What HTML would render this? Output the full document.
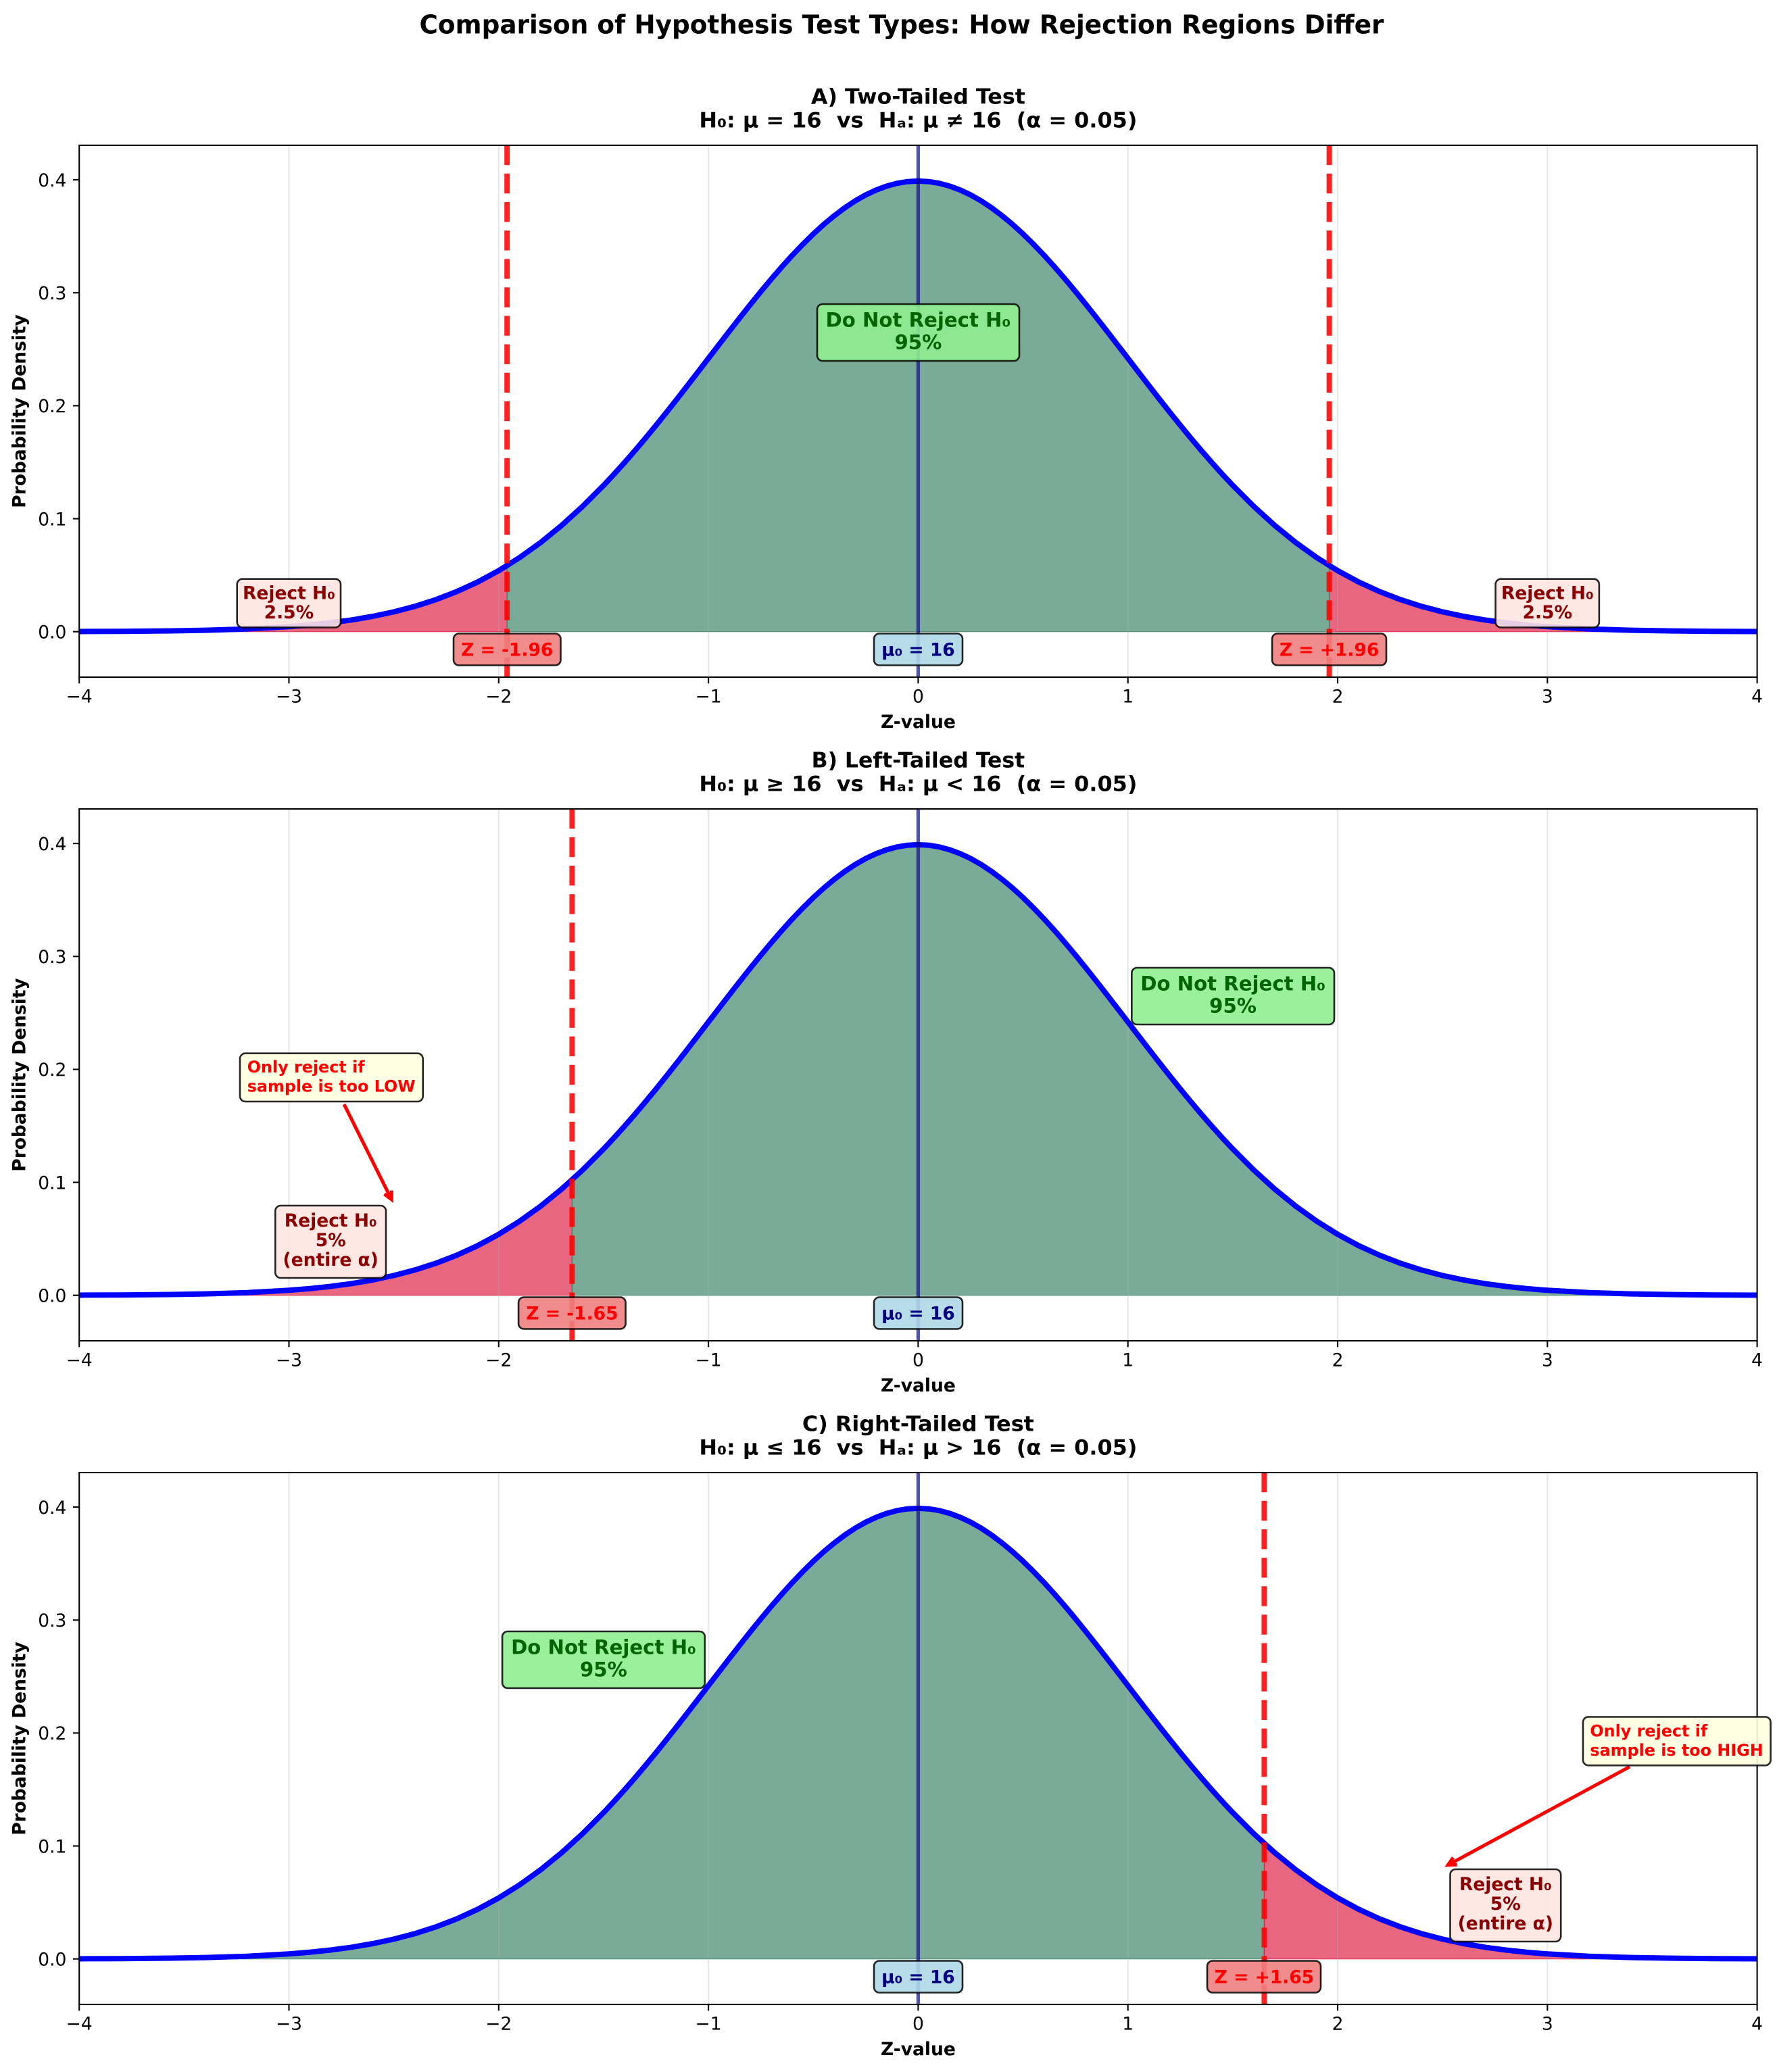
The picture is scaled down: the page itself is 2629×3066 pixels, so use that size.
<!DOCTYPE html>
<html>
<head>
<meta charset="utf-8">
<style>
html,body{margin:0;padding:0;background:#fff;}
svg{display:block;}
text{font-family:"DejaVu Sans","Liberation Sans",sans-serif;}
.b{font-weight:bold;}
</style>
</head>
<body>
<svg width="2629" height="3066" viewBox="0 0 2629 3066" xmlns="http://www.w3.org/2000/svg">
<defs>
<clipPath id="ax" clipPathUnits="userSpaceOnUse"><rect x="117.2" y="215" width="2482.4" height="787"/></clipPath>
<path id="curve" fill="none" stroke="#0000ff" stroke-width="8" stroke-linejoin="round" d="M-1241.2,-0.22 L-1179.14,-0.49 L-1117.08,-1.02 L-1055.02,-2.06 L-992.96,-3.98 L-930.9,-7.41 L-899.87,-9.95 L-868.84,-13.23 L-837.81,-17.42 L-806.78,-22.7 L-775.75,-29.3 L-744.72,-37.43 L-713.69,-47.35 L-682.66,-59.3 L-651.63,-73.52 L-620.6,-90.25 L-589.57,-109.68 L-558.54,-131.96 L-527.51,-157.2 L-496.48,-185.4 L-465.45,-216.49 L-449.935,-233.06 L-434.42,-250.27 L-418.905,-268.08 L-403.39,-286.44 L-387.875,-305.3 L-372.36,-324.58 L-356.845,-344.22 L-341.33,-364.14 L-325.815,-384.25 L-310.3,-404.46 L-294.785,-424.66 L-279.27,-444.76 L-263.755,-464.65 L-248.24,-484.22 L-232.725,-503.35 L-217.21,-521.93 L-201.695,-539.85 L-186.18,-556.99 L-170.665,-573.23 L-155.15,-588.48 L-139.635,-602.62 L-124.12,-615.56 L-108.605,-627.21 L-93.09,-637.49 L-77.575,-646.32 L-62.06,-653.63 L-46.545,-659.37 L-31.03,-663.51 L-15.515,-666.0 L0,-666.83 L15.515,-666.0 L31.03,-663.51 L46.545,-659.37 L62.06,-653.63 L77.575,-646.32 L93.09,-637.49 L108.605,-627.21 L124.12,-615.56 L139.635,-602.62 L155.15,-588.48 L170.665,-573.23 L186.18,-556.99 L201.695,-539.85 L217.21,-521.93 L232.725,-503.35 L248.24,-484.22 L263.755,-464.65 L279.27,-444.76 L294.785,-424.66 L310.3,-404.46 L325.815,-384.25 L341.33,-364.14 L356.845,-344.22 L372.36,-324.58 L387.875,-305.3 L403.39,-286.44 L418.905,-268.08 L434.42,-250.27 L449.935,-233.06 L465.45,-216.49 L496.48,-185.4 L527.51,-157.2 L558.54,-131.96 L589.57,-109.68 L620.6,-90.25 L651.63,-73.52 L682.66,-59.3 L713.69,-47.35 L744.72,-37.43 L775.75,-29.3 L806.78,-22.7 L837.81,-17.42 L868.84,-13.23 L899.87,-9.95 L930.9,-7.41 L992.96,-3.98 L1055.02,-2.06 L1117.08,-1.02 L1179.14,-0.49 L1241.2,-0.22"/>
<g id="grid" stroke="rgba(176,176,176,0.3)" stroke-width="2.1">
<line x1="427.5" y1="215" x2="427.5" y2="1002"/>
<line x1="737.8" y1="215" x2="737.8" y2="1002"/>
<line x1="1048.1" y1="215" x2="1048.1" y2="1002"/>
<line x1="1358.4" y1="215" x2="1358.4" y2="1002"/>
<line x1="1668.7" y1="215" x2="1668.7" y2="1002"/>
<line x1="1979" y1="215" x2="1979" y2="1002"/>
<line x1="2289.3" y1="215" x2="2289.3" y2="1002"/>
</g>
<g id="frame">
<rect x="117.2" y="215" width="2482.4" height="787" fill="none" stroke="#000" stroke-width="2.1"/>
<g stroke="#000" stroke-width="2.1">
<line x1="117.2" y1="1002" x2="117.2" y2="1011.3"/>
<line x1="427.5" y1="1002" x2="427.5" y2="1011.3"/>
<line x1="737.8" y1="1002" x2="737.8" y2="1011.3"/>
<line x1="1048.1" y1="1002" x2="1048.1" y2="1011.3"/>
<line x1="1358.4" y1="1002" x2="1358.4" y2="1011.3"/>
<line x1="1668.7" y1="1002" x2="1668.7" y2="1011.3"/>
<line x1="1979" y1="1002" x2="1979" y2="1011.3"/>
<line x1="2289.3" y1="1002" x2="2289.3" y2="1011.3"/>
<line x1="2599.6" y1="1002" x2="2599.6" y2="1011.3"/>
<line x1="107.9" y1="934.7" x2="117.2" y2="934.7"/>
<line x1="107.9" y1="767.55" x2="117.2" y2="767.55"/>
<line x1="107.9" y1="600.4" x2="117.2" y2="600.4"/>
<line x1="107.9" y1="433.25" x2="117.2" y2="433.25"/>
<line x1="107.9" y1="266.1" x2="117.2" y2="266.1"/>
</g>
<g font-size="26.5" fill="#000" text-anchor="middle">
<text x="117.2" y="1039.3">−4</text>
<text x="427.5" y="1039.3">−3</text>
<text x="737.8" y="1039.3">−2</text>
<text x="1048.1" y="1039.3">−1</text>
<text x="1358.4" y="1039.3">0</text>
<text x="1668.7" y="1039.3">1</text>
<text x="1979" y="1039.3">2</text>
<text x="2289.3" y="1039.3">3</text>
<text x="2599.6" y="1039.3">4</text>
</g>
<g font-size="26.5" fill="#000" text-anchor="end">
<text x="98.4" y="944.4">0.0</text>
<text x="98.4" y="777.25">0.1</text>
<text x="98.4" y="610.1">0.2</text>
<text x="98.4" y="442.95">0.3</text>
<text x="98.4" y="275.8">0.4</text>
</g>
<text class="b" x="1358.4" y="1077" font-size="26.5" text-anchor="middle">Z-value</text>
<text class="b" font-size="26.5" text-anchor="middle" transform="translate(37.5,608.5) rotate(-90)">Probability Density</text>
</g>
</defs>

<!-- Main title -->
<text class="b" x="1334" y="49.3" font-size="38.5" text-anchor="middle" textLength="1427" lengthAdjust="spacingAndGlyphs">Comparison of Hypothesis Test Types: How Rejection Regions Differ</text>

<!-- ================= PANEL A ================= -->
<g>
<text class="b" x="1358.4" y="153.3" font-size="31.5" text-anchor="middle" textLength="317" lengthAdjust="spacingAndGlyphs">A) Two-Tailed Test</text>
<text class="b" x="1358.4" y="188.3" font-size="31.5" text-anchor="middle" textLength="648" lengthAdjust="spacingAndGlyphs">H₀: μ = 16&#160; vs&#160; Hₐ: μ ≠ 16&#160; (α = 0.05)</text>
<g clip-path="url(#ax)">
<g transform="translate(1358.4,934.7)">
<path fill="rgba(220,20,60,0.65)" stroke="rgba(220,20,60,0.65)" stroke-width="1.3" d="M-1241.2,0 L-1241.2,-0.22 L-1179.14,-0.49 L-1117.08,-1.02 L-1055.02,-2.06 L-992.96,-3.98 L-930.9,-7.41 L-899.87,-9.95 L-868.84,-13.23 L-837.81,-17.42 L-806.78,-22.7 L-775.75,-29.3 L-744.72,-37.43 L-713.69,-47.35 L-682.66,-59.3 L-651.63,-73.52 L-620.6,-90.25 L-608.19,-97.69 L-608.19,0 Z"/>
<path fill="rgba(220,20,60,0.65)" stroke="rgba(220,20,60,0.65)" stroke-width="1.3" d="M1241.2,0 L1241.2,-0.22 L1179.14,-0.49 L1117.08,-1.02 L1055.02,-2.06 L992.96,-3.98 L930.9,-7.41 L899.87,-9.95 L868.84,-13.23 L837.81,-17.42 L806.78,-22.7 L775.75,-29.3 L744.72,-37.43 L713.69,-47.35 L682.66,-59.3 L651.63,-73.52 L620.6,-90.25 L608.19,-97.69 L608.19,0 Z"/>
<path fill="rgba(50,126,97,0.65)" stroke="rgba(50,126,97,0.65)" stroke-width="1.3" d="M-608.19,0 L-608.19,-97.69 L-589.57,-109.68 L-558.54,-131.96 L-527.51,-157.2 L-496.48,-185.4 L-465.45,-216.49 L-434.42,-250.27 L-403.39,-286.44 L-372.36,-324.58 L-341.33,-364.14 L-310.3,-404.46 L-279.27,-444.76 L-248.24,-484.22 L-217.21,-521.93 L-186.18,-556.99 L-155.15,-588.48 L-124.12,-615.56 L-93.09,-637.49 L-62.06,-653.63 L-31.03,-663.51 L0,-666.83 L31.03,-663.51 L62.06,-653.63 L93.09,-637.49 L124.12,-615.56 L155.15,-588.48 L186.18,-556.99 L217.21,-521.93 L248.24,-484.22 L279.27,-444.76 L310.3,-404.46 L341.33,-364.14 L372.36,-324.58 L403.39,-286.44 L434.42,-250.27 L465.45,-216.49 L496.48,-185.4 L527.51,-157.2 L558.54,-131.96 L589.57,-109.68 L608.19,-97.69 L608.19,0 Z"/>
</g>
<use href="#grid"/>
<g transform="translate(1358.4,934.7)"><use href="#curve"/></g>
<line x1="750.2" y1="1002" x2="750.2" y2="215" stroke="rgba(255,0,0,0.87)" stroke-width="7.95" stroke-dasharray="29.4 12.7"/>
<line x1="1966.6" y1="1002" x2="1966.6" y2="215" stroke="rgba(255,0,0,0.87)" stroke-width="7.95" stroke-dasharray="29.4 12.7"/>
<line x1="1358.4" y1="1002" x2="1358.4" y2="215" stroke="rgba(0,0,128,0.65)" stroke-width="5.3"/>
</g>
<use href="#frame"/>
</g>

<!-- ================= PANEL B ================= -->
<g transform="translate(0,982)">
<text class="b" x="1358.4" y="153.3" font-size="31.5" text-anchor="middle">B) Left-Tailed Test</text>
<text class="b" x="1358.4" y="188.3" font-size="31.5" text-anchor="middle" textLength="648" lengthAdjust="spacingAndGlyphs">H₀: μ ≥ 16&#160; vs&#160; Hₐ: μ &lt; 16&#160; (α = 0.05)</text>
<g clip-path="url(#ax)">
<g transform="translate(1358.4,934.7)">
<path fill="rgba(220,20,60,0.65)" stroke="rgba(220,20,60,0.65)" stroke-width="1.3" d="M-1241.2,0 L-1241.2,-0.22 L-1179.14,-0.49 L-1117.08,-1.02 L-1055.02,-2.06 L-992.96,-3.98 L-930.9,-7.41 L-899.87,-9.95 L-868.84,-13.23 L-837.81,-17.42 L-806.78,-22.7 L-775.75,-29.3 L-744.72,-37.43 L-713.69,-47.35 L-682.66,-59.3 L-651.63,-73.52 L-620.6,-90.25 L-589.57,-109.68 L-558.54,-131.96 L-527.51,-157.2 L-512,-170.94 L-512,0 Z"/>
<path fill="rgba(50,126,97,0.65)" stroke="rgba(50,126,97,0.65)" stroke-width="1.3" d="M-512,0 L-512,-170.94 L-496.48,-185.4 L-465.45,-216.49 L-434.42,-250.27 L-403.39,-286.44 L-372.36,-324.58 L-341.33,-364.14 L-310.3,-404.46 L-279.27,-444.76 L-248.24,-484.22 L-217.21,-521.93 L-186.18,-556.99 L-155.15,-588.48 L-124.12,-615.56 L-93.09,-637.49 L-62.06,-653.63 L-31.03,-663.51 L0,-666.83 L31.03,-663.51 L62.06,-653.63 L93.09,-637.49 L124.12,-615.56 L155.15,-588.48 L186.18,-556.99 L217.21,-521.93 L248.24,-484.22 L279.27,-444.76 L310.3,-404.46 L341.33,-364.14 L372.36,-324.58 L403.39,-286.44 L434.42,-250.27 L465.45,-216.49 L496.48,-185.4 L527.51,-157.2 L558.54,-131.96 L589.57,-109.68 L620.6,-90.25 L651.63,-73.52 L682.66,-59.3 L713.69,-47.35 L744.72,-37.43 L775.75,-29.3 L806.78,-22.7 L837.81,-17.42 L868.84,-13.23 L899.87,-9.95 L930.9,-7.41 L992.96,-3.98 L1055.02,-2.06 L1117.08,-1.02 L1179.14,-0.49 L1241.2,-0.22 L1241.2,0 Z"/>
</g>
<use href="#grid"/>
<g transform="translate(1358.4,934.7)"><use href="#curve"/></g>
<line x1="846.4" y1="1002" x2="846.4" y2="215" stroke="rgba(255,0,0,0.87)" stroke-width="7.95" stroke-dasharray="29.4 12.7"/>
<line x1="1358.4" y1="1002" x2="1358.4" y2="215" stroke="rgba(0,0,128,0.65)" stroke-width="5.3"/>
</g>
<use href="#frame"/>
</g>

<!-- ================= PANEL C ================= -->
<g transform="translate(0,1964)">
<text class="b" x="1358.4" y="153.3" font-size="31.5" text-anchor="middle" textLength="343" lengthAdjust="spacingAndGlyphs">C) Right-Tailed Test</text>
<text class="b" x="1358.4" y="188.3" font-size="31.5" text-anchor="middle" textLength="648" lengthAdjust="spacingAndGlyphs">H₀: μ ≤ 16&#160; vs&#160; Hₐ: μ &gt; 16&#160; (α = 0.05)</text>
<g clip-path="url(#ax)">
<g transform="translate(1358.4,934.7)">
<path fill="rgba(50,126,97,0.65)" stroke="rgba(50,126,97,0.65)" stroke-width="1.3" d="M-1241.2,0 L-1241.2,-0.22 L-1179.14,-0.49 L-1117.08,-1.02 L-1055.02,-2.06 L-992.96,-3.98 L-930.9,-7.41 L-899.87,-9.95 L-868.84,-13.23 L-837.81,-17.42 L-806.78,-22.7 L-775.75,-29.3 L-744.72,-37.43 L-713.69,-47.35 L-682.66,-59.3 L-651.63,-73.52 L-620.6,-90.25 L-589.57,-109.68 L-558.54,-131.96 L-527.51,-157.2 L-496.48,-185.4 L-465.45,-216.49 L-434.42,-250.27 L-403.39,-286.44 L-372.36,-324.58 L-341.33,-364.14 L-310.3,-404.46 L-279.27,-444.76 L-248.24,-484.22 L-217.21,-521.93 L-186.18,-556.99 L-155.15,-588.48 L-124.12,-615.56 L-93.09,-637.49 L-62.06,-653.63 L-31.03,-663.51 L0,-666.83 L31.03,-663.51 L62.06,-653.63 L93.09,-637.49 L124.12,-615.56 L155.15,-588.48 L186.18,-556.99 L217.21,-521.93 L248.24,-484.22 L279.27,-444.76 L310.3,-404.46 L341.33,-364.14 L372.36,-324.58 L403.39,-286.44 L434.42,-250.27 L465.45,-216.49 L496.48,-185.4 L512,-170.94 L512,0 Z"/>
<path fill="rgba(220,20,60,0.65)" stroke="rgba(220,20,60,0.65)" stroke-width="1.3" d="M512,0 L512,-170.94 L527.51,-157.2 L558.54,-131.96 L589.57,-109.68 L620.6,-90.25 L651.63,-73.52 L682.66,-59.3 L713.69,-47.35 L744.72,-37.43 L775.75,-29.3 L806.78,-22.7 L837.81,-17.42 L868.84,-13.23 L899.87,-9.95 L930.9,-7.41 L992.96,-3.98 L1055.02,-2.06 L1117.08,-1.02 L1179.14,-0.49 L1241.2,-0.22 L1241.2,0 Z"/>
</g>
<use href="#grid"/>
<g transform="translate(1358.4,934.7)"><use href="#curve"/></g>
<line x1="1870.4" y1="1002" x2="1870.4" y2="215" stroke="rgba(255,0,0,0.87)" stroke-width="7.95" stroke-dasharray="29.4 12.7"/>
<line x1="1358.4" y1="1002" x2="1358.4" y2="215" stroke="rgba(0,0,128,0.65)" stroke-width="5.3"/>
</g>
<use href="#frame"/>
</g>

<!-- ================= ANNOTATIONS (absolute) ================= -->
<g stroke="rgba(0,0,0,0.85)" stroke-width="2.6">
<!-- A -->
<rect x="1209" y="450" width="299" height="84" rx="8" fill="rgba(144,238,144,0.9)"/>
<rect x="350.7" y="856.7" width="153.3" height="71.7" rx="8" fill="rgba(255,228,225,0.9)"/>
<rect x="2212.6" y="856.7" width="153.3" height="71.7" rx="8" fill="rgba(255,228,225,0.9)"/>
<rect x="671" y="937.5" width="158.5" height="47" rx="8" fill="rgba(240,128,128,0.9)"/>
<rect x="1882" y="937.5" width="169" height="47" rx="8" fill="rgba(240,128,128,0.9)"/>
<rect x="1293" y="937.5" width="131" height="47" rx="8" fill="rgba(173,216,230,0.9)"/>
<!-- B -->
<rect x="1674.3" y="1432" width="299.7" height="84" rx="8" fill="rgba(144,238,144,0.9)"/>
<rect x="407.3" y="1784" width="163.7" height="107" rx="8" fill="rgba(255,228,225,0.9)"/>
<rect x="767.1" y="1919.5" width="158.5" height="47" rx="8" fill="rgba(240,128,128,0.9)"/>
<rect x="1293" y="1919.5" width="131" height="47" rx="8" fill="rgba(173,216,230,0.9)"/>
<!-- C -->
<rect x="743.1" y="2414" width="299.7" height="84" rx="8" fill="rgba(144,238,144,0.9)"/>
<rect x="2145.5" y="2766" width="163.7" height="107" rx="8" fill="rgba(255,228,225,0.9)"/>
<rect x="1786" y="2901.5" width="168" height="47" rx="8" fill="rgba(240,128,128,0.9)"/>
<rect x="1293" y="2901.5" width="131" height="47" rx="8" fill="rgba(173,216,230,0.9)"/>
</g>

<!-- arrows -->
<g stroke="#ff0000" stroke-width="5" fill="none" stroke-linecap="butt">
<line x1="509" y1="1634" x2="577.5" y2="1771.5"/>
<polyline points="579.3,1761.6 579.3,1775 568.6,1766.9" stroke-linejoin="miter"/>
<line x1="2411" y1="2614.3" x2="2145.7" y2="2757.8"/>
<polyline points="2155.6,2759.3 2142.2,2759.7 2149.9,2748.7" stroke-linejoin="miter"/>
</g>
<g stroke="rgba(0,0,0,0.85)" stroke-width="2.6">
<rect x="355" y="1558.7" width="270.7" height="71.3" rx="8" fill="rgba(255,255,224,0.9)"/>
<rect x="2342" y="2540.5" width="277.6" height="71.8" rx="8" fill="rgba(255,255,224,0.9)"/>
</g>

<!-- annotation texts -->
<g class="b" font-weight="bold" text-anchor="middle">
<!-- A -->
<text x="1358.4" y="483.7" font-size="29.2" fill="#006400">Do Not Reject H₀</text>
<text x="1358.4" y="516.7" font-size="29.2" fill="#006400">95%</text>
<text x="427.4" y="886.5" font-size="26.5" fill="#8b0000">Reject H₀</text>
<text x="427.4" y="915.2" font-size="26.5" fill="#8b0000">2.5%</text>
<text x="2289.3" y="886.5" font-size="26.5" fill="#8b0000">Reject H₀</text>
<text x="2289.3" y="915.2" font-size="26.5" fill="#8b0000">2.5%</text>
<text x="750.2" y="970.7" font-size="26.5" fill="#ff0000">Z = -1.96</text>
<text x="1966.6" y="970.7" font-size="26.5" fill="#ff0000">Z = +1.96</text>
<text x="1358.4" y="970.7" font-size="26.5" fill="#000080">μ₀ = 16</text>
<!-- B -->
<text x="1824.1" y="1465.7" font-size="29.2" fill="#006400">Do Not Reject H₀</text>
<text x="1824.1" y="1498.7" font-size="29.2" fill="#006400">95%</text>
<text x="489.2" y="1815" font-size="26.5" fill="#8b0000">Reject H₀</text>
<text x="489.2" y="1844" font-size="26.5" fill="#8b0000">5%</text>
<text x="489.2" y="1873" font-size="26.5" fill="#8b0000">(entire α)</text>
<text x="846.4" y="1952.7" font-size="26.5" fill="#ff0000">Z = -1.65</text>
<text x="1358.4" y="1952.7" font-size="26.5" fill="#000080">μ₀ = 16</text>
<!-- C -->
<text x="892.95" y="2447.7" font-size="29.2" fill="#006400">Do Not Reject H₀</text>
<text x="892.95" y="2480.7" font-size="29.2" fill="#006400">95%</text>
<text x="2227.3" y="2797" font-size="26.5" fill="#8b0000">Reject H₀</text>
<text x="2227.3" y="2826" font-size="26.5" fill="#8b0000">5%</text>
<text x="2227.3" y="2855" font-size="26.5" fill="#8b0000">(entire α)</text>
<text x="1870.4" y="2934.7" font-size="26.5" fill="#ff0000">Z = +1.65</text>
<text x="1358.4" y="2934.7" font-size="26.5" fill="#000080">μ₀ = 16</text>
</g>
<g font-weight="bold" text-anchor="start" font-size="23.85" fill="#ff0000">
<text x="365.7" y="1587">Only reject if</text>
<text x="365.7" y="1615.7">sample is too LOW</text>
<text x="2352.4" y="2569.5">Only reject if</text>
<text x="2352.4" y="2598">sample is too HIGH</text>
</g>
</svg>
</body>
</html>
